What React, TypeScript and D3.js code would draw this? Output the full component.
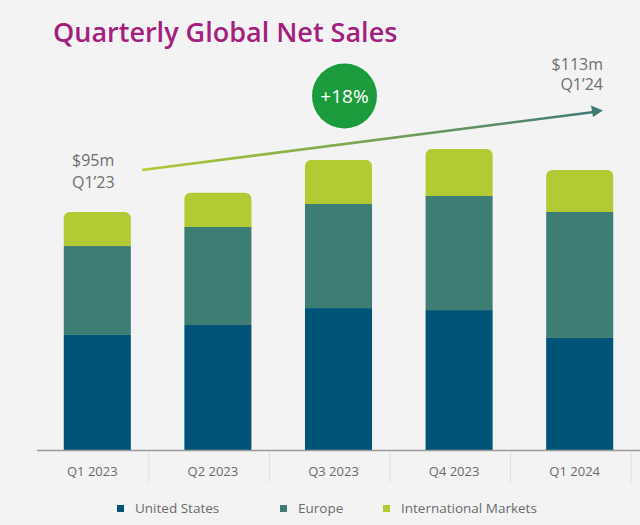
import React from "react";
import * as d3 from "d3";

const WIDTH = 640;
const HEIGHT = 525;
const BASELINE = 450;

const quarters = ["Q1 2023", "Q2 2023", "Q3 2023", "Q4 2023", "Q1 2024"];
const unitedStates = [46.2, 50.2, 57.0, 56.2, 45.0];
const europe = [35.7, 39.4, 41.8, 45.8, 50.6];
const international = [13.7, 13.7, 17.7, 18.9, 16.9];

const seriesNames = ["United States", "Europe", "International Markets"];
const seriesColors = ["#005478", "#3e7d74", "#b2ca34"];

const startLabel = ["$95m", "Q1\u201923"];
const endLabel = ["$113m", "Q1\u201924"];
const growthLabel = "+18%";

const FONT = "'Open Sans', 'Noto Sans', sans-serif";

function roundedTop(x: number, y: number, w: number, h: number, r: number) {
  const p = d3.path();
  p.moveTo(x, y + h);
  p.lineTo(x, y + r);
  p.arcTo(x, y, x + r, y, r);
  p.lineTo(x + w - r, y);
  p.arcTo(x + w, y, x + w, y + r, r);
  p.lineTo(x + w, y + h);
  p.closePath();
  return p.toString();
}

export default function App() {
  const x = d3
    .scaleBand<string>()
    .domain(quarters)
    .range([37, 640])
    .paddingInner(0.444)
    .paddingOuter(0.222);

  const y = d3.scaleLinear().domain([0, 120]).range([BASELINE, BASELINE - 120 * 2.49]);

  const rows = quarters.map((q, i) => ({
    quarter: q,
    us: unitedStates[i],
    eu: europe[i],
    intl: international[i],
  }));
  const stacked = d3.stack<any>().keys(["us", "eu", "intl"])(rows);

  const bw = x.bandwidth();
  const legendX = [117, 280, 383];

  return (
    <svg
      width={WIDTH}
      height={HEIGHT}
      style={{ position: "absolute", left: 0, top: 0, background: "#f3f3f3" }}
      fontFamily={FONT}
    >
      <defs>
        <linearGradient id="trend" x1="0" x2="1" y1="0" y2="0">
          <stop offset="0%" stopColor="#b2ca34" />
          <stop offset="100%" stopColor="#3e7d74" />
        </linearGradient>
      </defs>
      <rect width={WIDTH} height={HEIGHT} fill="#f3f3f3" />

      <text x={53} y={42} fill="#a3207f" fontSize={27} fontWeight={600}>
        Quarterly Global Net Sales
      </text>

      {stacked.map((layer, li) => (
        <g key={li} fill={seriesColors[li]}>
          {layer.map((d, i) => {
            const x0 = x(quarters[i]) as number;
            const top = y(d[1]);
            const h = y(d[0]) - top;
            return li === stacked.length - 1 ? (
              <path key={i} d={roundedTop(x0, top, bw, h, 6)} />
            ) : (
              <rect key={i} x={x0} y={top} width={bw} height={h} />
            );
          })}
        </g>
      ))}

      <line x1={37} x2={640} y1={BASELINE + 0.5} y2={BASELINE + 0.5} stroke="#9a9a9a" strokeWidth={1.5} />
      {quarters.map((q) => {
        const sx = (x(q) as number) + bw + 18;
        return <line key={q} x1={sx} x2={sx} y1={452} y2={482} stroke="#dedede" strokeWidth={1} />;
      })}
      {quarters.map((q) => (
        <text
          key={q}
          x={(x(q) as number) + bw / 2 - 5}
          y={476}
          textAnchor="middle"
          fontSize={13}
          fill="#6b6b6b"
        >
          {q}
        </text>
      ))}

      {seriesNames.map((s, i) => (
        <g key={s}>
          <rect x={legendX[i]} y={505} width={7} height={7} fill={seriesColors[i]} />
          <text x={legendX[i] + 18} y={513} fontSize={13.5} fill="#6b6b6b">
            {s}
          </text>
        </g>
      ))}

      <line x1={142} y1={170} x2={594} y2={112} stroke="url(#trend)" strokeWidth={2.5} />
      <path d="M603,110.5 L591,105.5 L593,117 Z" fill="#3e7d74" />

      <circle cx={344.5} cy={96} r={32.5} fill="#1b9b3b" />
      <text x={344.5} y={103} textAnchor="middle" fontSize={19} fill="#ffffff">
        {growthLabel}
      </text>

      {startLabel.map((t, i) => (
        <text key={t} x={72} y={166 + i * 22} fontSize={16} fill="#6f6f6f">
          {t}
        </text>
      ))}
      {endLabel.map((t, i) => (
        <text key={t} x={603} y={70 + i * 20} textAnchor="end" fontSize={16} fill="#6f6f6f">
          {t}
        </text>
      ))}
    </svg>
  );
}
